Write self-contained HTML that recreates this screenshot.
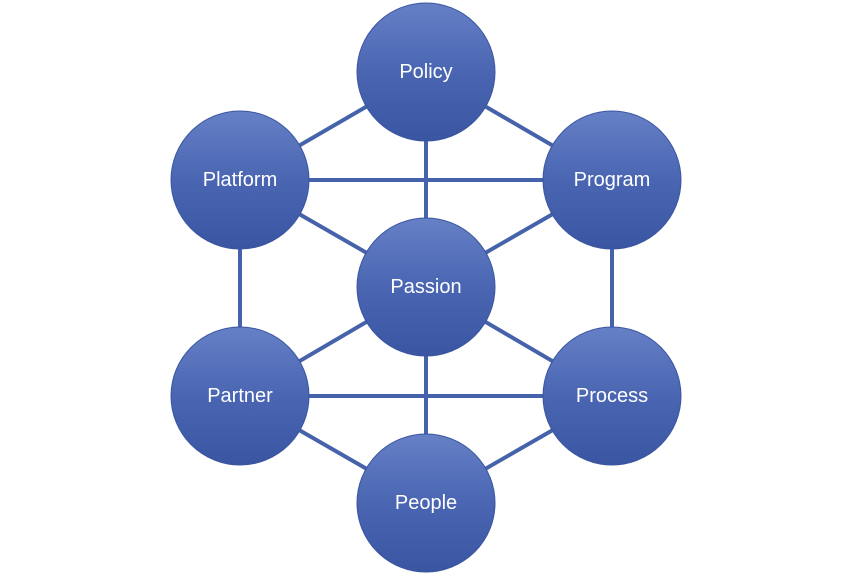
<!DOCTYPE html>
<html><head><meta charset="utf-8"><style>
html,body{margin:0;padding:0;background:#fff;}
svg{display:block;}
text{font-family:"Liberation Sans",sans-serif;font-size:20px;fill:#fff;text-anchor:middle;dominant-baseline:central;}
</style></head><body>
<svg width="853" height="581" viewBox="0 0 853 581">
<defs>
<linearGradient id="g" x1="0" y1="0" x2="0" y2="1">
<stop offset="0" stop-color="#6680c6"/>
<stop offset="0.5" stop-color="#4a66b2"/>
<stop offset="1" stop-color="#3a55a2"/>
</linearGradient>
</defs>
<g stroke="#4562aa" stroke-width="4">
<line x1="426" y1="72" x2="240" y2="180"/>
<line x1="426" y1="72" x2="612" y2="180"/>
<line x1="426" y1="72" x2="426" y2="287"/>
<line x1="240" y1="180" x2="612" y2="180"/>
<line x1="240" y1="180" x2="426" y2="287"/>
<line x1="612" y1="180" x2="426" y2="287"/>
<line x1="240" y1="180" x2="240" y2="396"/>
<line x1="612" y1="180" x2="612" y2="396"/>
<line x1="426" y1="287" x2="240" y2="396"/>
<line x1="426" y1="287" x2="612" y2="396"/>
<line x1="426" y1="287" x2="426" y2="503"/>
<line x1="240" y1="396" x2="612" y2="396"/>
<line x1="240" y1="396" x2="426" y2="503"/>
<line x1="612" y1="396" x2="426" y2="503"/>
</g>
<g fill="url(#g)" stroke="#3a55a0" stroke-width="1">
<circle cx="426" cy="72" r="69"/>
<circle cx="240" cy="180" r="69"/>
<circle cx="612" cy="180" r="69"/>
<circle cx="426" cy="287" r="69"/>
<circle cx="240" cy="396" r="69"/>
<circle cx="612" cy="396" r="69"/>
<circle cx="426" cy="503" r="69"/>
</g>
<text x="426" y="72">Policy</text>
<text x="240" y="180">Platform</text>
<text x="612" y="180">Program</text>
<text x="426" y="287">Passion</text>
<text x="240" y="396">Partner</text>
<text x="612" y="396">Process</text>
<text x="426" y="503">People</text>
</svg>
</body></html>
